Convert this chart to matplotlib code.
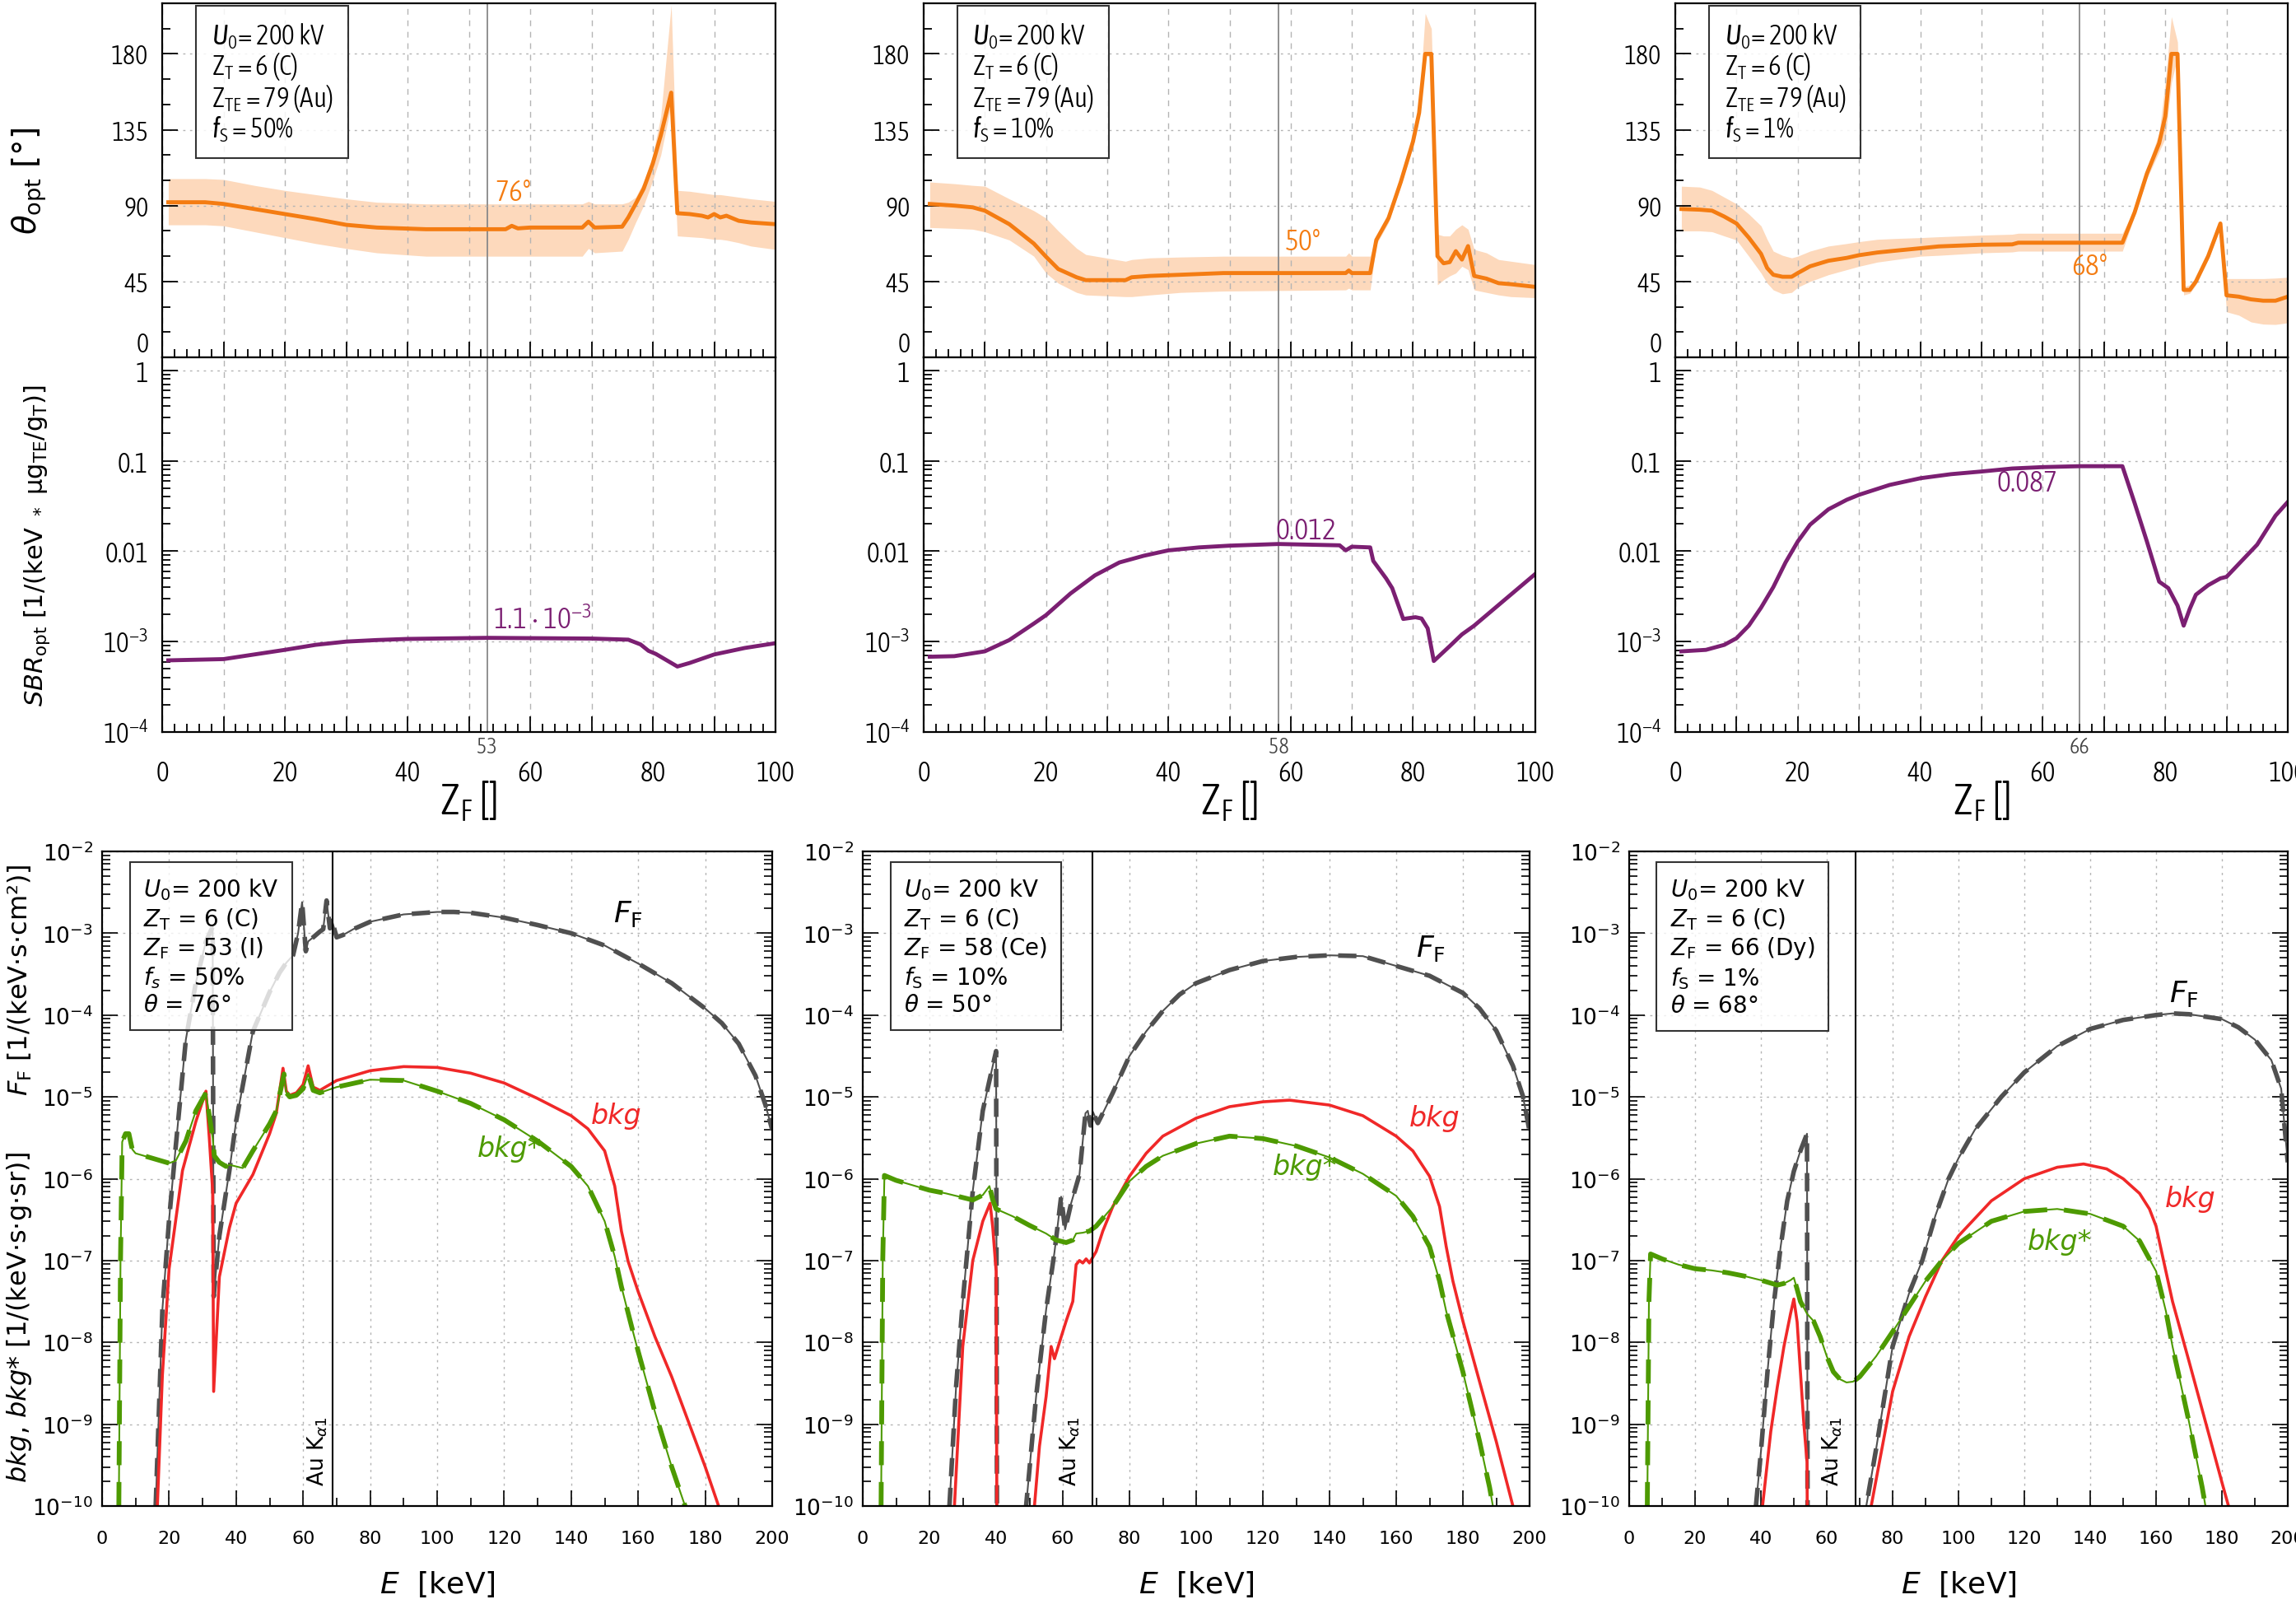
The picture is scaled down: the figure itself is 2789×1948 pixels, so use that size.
import numpy as np
import matplotlib
matplotlib.use('Agg')
import matplotlib.pyplot as plt
from matplotlib import font_manager
from matplotlib.ticker import FixedLocator, MultipleLocator, LogLocator, NullFormatter, FuncFormatter

# ---------------- data ----------------
# optimum take-off angle theta_opt [deg] vs Z_F, with upper / lower band
z_th1 = [1, 7, 10, 15, 20, 25, 30, 35, 43, 56, 57, 58, 60, 68.5, 69.5, 70.5, 75, 76, 77.2, 78.5, 80, 81.3, 83, 84, 86, 88, 89, 90, 91, 92, 94, 96, 100]
th1 = [92, 92, 91, 88, 85, 82, 78.6, 77, 76, 76, 78, 76.5, 77, 77, 80.5, 77, 77.5, 83, 91, 100, 115, 131.7, 157, 85.5, 85, 84, 83, 85, 83, 84, 81, 80, 79]
th1_hi = [106, 106, 105.5, 102, 99, 96.5, 94, 92, 91, 91, 91, 91, 91, 91, 92.5, 91, 91, 92, 95, 104, 120, 143, 209, 99, 98.5, 97.5, 97, 96.5, 96.5, 96, 95, 94, 92.5]
th1_lo = [78.6, 78.6, 78, 74.5, 71, 67.5, 64.6, 62, 60, 60, 60, 60, 60, 60, 64.6, 62, 63, 70, 80, 90, 105, 120, 150, 72, 71.5, 71, 70.5, 70, 70, 69.5, 68, 66, 64]

z_th2 = [1, 5, 8, 10, 14, 18, 20, 22, 25, 26.5, 33, 34, 37, 42, 49, 69, 69.5, 70, 73, 74, 76, 78, 80, 81, 82, 83, 84, 85, 86, 87, 88, 89, 90, 92, 94, 96, 100]
th2 = [91, 90, 89, 87, 79, 67.5, 59.7, 52.4, 47.5, 45.8, 45.8, 47.5, 48.3, 49, 50, 50, 51.5, 50, 50, 69.6, 82.6, 104, 128, 145, 180, 180, 60, 55.8, 56.5, 63, 58, 66, 48.3, 46.7, 44, 43.4, 41.8]
th2_hi = [104, 103, 102, 101.5, 94, 87, 82.6, 75, 64.7, 61, 57, 58, 59, 59.5, 60, 60, 62, 60, 60, 72, 85, 106, 132, 150, 204, 195, 73, 72, 72, 76, 78.6, 76, 64, 62, 58, 57, 55]
th2_lo = [77, 76.5, 76, 74.5, 69.6, 60, 50, 44, 38.5, 37, 36, 36, 37, 38.5, 39.3, 40, 41, 40, 40, 67, 80, 102, 125, 141, 179, 178, 43, 46, 48.3, 50, 54, 52, 40, 38.5, 37, 36, 35.4]

z_th3 = [1, 4, 6, 8, 10, 12, 14, 15, 16, 17.5, 19, 20, 22, 25, 28, 30, 33, 36, 40, 43, 50, 55, 56, 73, 75, 77, 79, 80, 81, 82, 83, 84, 85, 87, 89, 90, 92, 94, 96, 98, 100]
th3 = [88, 87.6, 87, 83.5, 79.4, 71, 61.4, 53, 49, 47.8, 47.8, 50, 54, 57.3, 59, 60.6, 62.2, 63.3, 64.7, 65.8, 66.8, 67, 68, 68, 86, 109, 127, 143, 180, 180, 40, 40, 45, 60, 79.4, 36.8, 36, 34.4, 33.6, 33.6, 36]
th3_hi = [101.5, 101, 99, 95, 91, 85, 78, 70, 63, 60.5, 59, 60, 63, 66, 67.5, 68.6, 70, 70.5, 71, 71.5, 72.5, 73, 73.6, 73.6, 88, 112, 133, 163, 202, 187, 42, 43, 47, 62, 81, 46.7, 46.7, 46.7, 46.7, 47, 47.5]
th3_lo = [75, 75, 74.5, 72, 69.6, 60, 50, 44, 40, 37.7, 38.5, 41.6, 45, 49, 52, 54, 56.5, 58, 60, 60.5, 62, 62.5, 63, 63, 84, 106, 122, 130, 163, 178, 37, 38, 43, 58, 77, 27, 25, 21, 19.7, 19.5, 20.5]

# optimum signal to background ratio vs Z_F
z_sbr1 = [1, 10, 15, 20, 25, 30, 35, 40, 53, 70, 76, 78, 79.3, 80.5, 84, 86, 90, 95, 100]
sbr1 = [6.2e-4, 6.4e-4, 7.2e-4, 8.1e-4, 9.2e-4, 1.0e-3, 1.04e-3, 1.07e-3, 1.1e-3, 1.08e-3, 1.05e-3, 9.3e-4, 7.9e-4, 7.3e-4, 5.3e-4, 5.8e-4, 7.2e-4, 8.5e-4, 9.6e-4]

z_sbr2 = [1, 5, 10, 14, 18, 20, 24, 28, 32, 36, 40, 45, 50, 58, 68, 69, 70, 73, 73.5, 75.6, 76.6, 78.4, 80.4, 81.4, 82.4, 83.4, 86, 88, 90, 95, 100]
sbr2 = [6.8e-4, 6.9e-4, 7.8e-4, 1.04e-3, 1.58e-3, 1.96e-3, 3.4e-3, 5.4e-3, 7.5e-3, 8.9e-3, 1.02e-2, 1.1e-2, 1.15e-2, 1.2e-2, 1.16e-2, 1.02e-2, 1.12e-2, 1.1e-2, 7.8e-3, 5.0e-3, 3.9e-3, 1.78e-3, 1.86e-3, 1.8e-3, 1.4e-3, 6.1e-4, 8.9e-4, 1.2e-3, 1.5e-3, 2.9e-3, 5.6e-3]

z_sbr3 = [1, 5, 8, 10, 12, 14, 16, 18, 20, 22, 25, 28, 30, 35, 40, 45, 50, 55, 60, 66, 73, 75, 77, 79, 80.5, 82, 83, 84, 85, 87, 89, 90, 95, 98, 100]
sbr3 = [7.8e-4, 8.1e-4, 9.2e-4, 1.09e-3, 1.5e-3, 2.37e-3, 4.0e-3, 7.5e-3, 1.28e-2, 1.96e-2, 2.9e-2, 3.7e-2, 4.2e-2, 5.4e-2, 6.4e-2, 7.1e-2, 7.6e-2, 8.2e-2, 8.5e-2, 8.7e-2, 8.7e-2, 3.4e-2, 1.28e-2, 4.6e-3, 3.9e-3, 2.5e-3, 1.5e-3, 2.3e-3, 3.3e-3, 4.2e-3, 5.0e-3, 5.2e-3, 1.18e-2, 2.47e-2, 3.5e-2]

# spectra (log10 of value) vs E [keV]
e_ff1 = [16, 18, 20, 22, 25, 28, 31, 33, 33.3, 35, 38, 40, 45, 50, 53, 55, 57, 58.5, 59.7, 60.8, 61.5, 63, 65, 66, 67, 68, 68.5, 69, 70, 72, 75, 80, 90, 100, 105, 110, 120, 130, 140, 150, 160, 170, 180, 185, 190, 195, 198, 200]
ff1 = [-10, -7.6, -6.5, -5.6, -4.3, -3.6, -3.1, -2.92, -7.44, -6.7, -5.9, -5.3, -4.2, -3.72, -3.48, -3.36, -3.27, -3.0, -2.62, -3.22, -3.1, -3.05, -2.98, -2.95, -2.6, -2.94, -2.83, -2.9, -3.05, -3.02, -2.95, -2.86, -2.77, -2.74, -2.74, -2.75, -2.81, -2.9, -3.0, -3.15, -3.37, -3.61, -3.92, -4.1, -4.35, -4.74, -5.1, -5.4]
e_bkg1 = [16.5, 18, 20, 24, 28, 31, 32, 33, 33.3, 35, 38, 40, 45, 50, 52, 54, 55, 56, 58, 60, 61.5, 63, 65, 70, 80, 90, 100, 110, 120, 130, 140, 145, 150, 153, 155, 157, 160, 165, 170, 175, 180, 184]
bkg1 = [-10, -8.4, -7.1, -5.9, -5.3, -4.93, -5.5, -6.15, -8.6, -7.2, -6.6, -6.3, -5.95, -5.45, -5.2, -4.65, -4.93, -4.98, -4.95, -4.85, -4.62, -4.88, -4.92, -4.8, -4.68, -4.63, -4.64, -4.71, -4.83, -5.02, -5.23, -5.39, -5.66, -6.09, -6.64, -7.01, -7.38, -7.93, -8.42, -8.97, -9.52, -10]
e_bks1 = [5, 5.5, 6, 7, 8, 9, 10, 15, 20, 22, 25, 28, 31, 32, 33, 33.5, 35, 37, 38, 40, 42, 45, 50, 52, 54.3, 55, 56, 58, 60, 61.5, 63, 65, 70, 80, 90, 100, 110, 120, 130, 140, 145, 150, 153, 155, 158, 160, 165, 170, 174]
bks1 = [-10, -7, -5.55, -5.45, -5.45, -5.64, -5.69, -5.75, -5.81, -5.78, -5.54, -5.17, -4.95, -5.23, -5.5, -5.72, -5.8, -5.85, -5.83, -5.85, -5.87, -5.66, -5.33, -5.17, -4.72, -4.95, -5.0, -4.98, -4.9, -4.72, -4.92, -4.95, -4.88, -4.79, -4.8, -4.93, -5.08, -5.28, -5.54, -5.85, -6.09, -6.52, -6.95, -7.32, -7.8, -8.11, -8.85, -9.52, -10]

e_ff2 = [26, 28, 30, 33, 36, 38, 40, 40.3, 48.9, 49, 52, 55, 57.5, 59.5, 60.7, 62.5, 65, 66.8, 67.5, 68.3, 69, 70.5, 72, 75, 80, 85, 90, 95, 100, 110, 120, 130, 140, 150, 160, 170, 180, 185, 190, 195, 198, 200]
ff2 = [-10, -8.54, -7.5, -6.15, -5.17, -4.8, -4.44, -11, -11, -10, -8.66, -7.6, -6.9, -6.22, -6.62, -6.3, -5.95, -5.2, -5.17, -5.35, -5.18, -5.32, -5.2, -4.95, -4.5, -4.2, -3.95, -3.75, -3.61, -3.45, -3.34, -3.29, -3.27, -3.28, -3.4, -3.52, -3.73, -3.92, -4.19, -4.62, -4.99, -5.42]
e_bkg2 = [27.5, 30, 33, 36, 38.2, 39, 40, 40.3, 51.3, 51.5, 53, 55, 56.5, 57.5, 59, 61, 63, 64, 65, 66, 67, 68, 70, 72, 75, 80, 85, 90, 100, 110, 120, 128, 140, 150, 160, 165, 170, 173, 175, 177, 180, 185, 190, 195]
bkg2 = [-10, -8.05, -7.0, -6.52, -6.3, -6.6, -7.13, -11, -11, -10, -9.27, -8.66, -8.05, -8.2, -8.0, -7.74, -7.5, -7.05, -7.0, -7.03, -6.98, -7.03, -6.89, -6.64, -6.34, -5.97, -5.69, -5.48, -5.26, -5.12, -5.06, -5.04, -5.1, -5.23, -5.48, -5.66, -5.97, -6.34, -6.83, -7.25, -7.74, -8.48, -9.21, -10]
e_bks2 = [5.5, 6, 6.5, 10, 15, 20, 25, 30, 33, 36, 38, 39, 40, 45, 50, 55, 58, 61, 63, 64, 66, 68, 70, 75, 80, 85, 90, 100, 110, 120, 130, 140, 150, 160, 165, 170, 173, 175, 180, 185, 188, 189]
bks2 = [-10, -7, -5.96, -6.02, -6.08, -6.14, -6.18, -6.23, -6.26, -6.2, -6.09, -6.26, -6.37, -6.46, -6.57, -6.67, -6.75, -6.78, -6.75, -6.67, -6.66, -6.64, -6.58, -6.34, -6.03, -5.85, -5.72, -5.57, -5.48, -5.51, -5.6, -5.74, -5.94, -6.21, -6.46, -6.83, -7.25, -7.62, -8.36, -9.21, -9.77, -10]

e_ff3 = [38.5, 40, 42, 44, 46, 48, 50, 52, 54, 54.2, 71.8, 72, 75, 80, 85, 89, 93, 97, 100, 105, 110, 113, 120, 130, 140, 150, 160, 165, 170, 180, 185, 190, 195, 198, 200]
ff3 = [-10, -9.34, -8.36, -7.5, -6.83, -6.27, -5.91, -5.66, -5.45, -11, -11, -10, -9.3, -8.05, -7.4, -7.0, -6.45, -6.0, -5.75, -5.4, -5.15, -5.0, -4.7, -4.38, -4.17, -4.06, -4.0, -3.98, -3.99, -4.05, -4.15, -4.3, -4.55, -4.9, -5.8]
e_bkg3 = [40.5, 43, 45, 47, 49, 50, 51, 52, 53, 54, 54.2, 73.3, 73.5, 80, 85, 90, 95, 100, 110, 120, 130, 138, 145, 150, 155, 158, 160, 162, 165, 170, 175, 180, 182]
bkg3 = [-10, -9.09, -8.54, -8.05, -7.65, -7.47, -7.75, -8.36, -8.97, -9.46, -11, -11, -10, -8.6, -7.93, -7.44, -7.0, -6.7, -6.27, -6.0, -5.86, -5.82, -5.88, -6.0, -6.18, -6.37, -6.58, -6.95, -7.5, -8.23, -8.97, -9.71, -10]
e_bks3 = [5.5, 6, 6.5, 10, 15, 20, 25, 30, 35, 40, 45, 47, 49, 50, 51, 52, 54, 56, 58, 60, 62, 64, 66, 68, 70, 75, 80, 85, 90, 95, 100, 110, 120, 130, 140, 150, 155, 160, 163, 165, 170, 174, 175]
bks3 = [-10, -7.5, -6.92, -6.98, -7.05, -7.1, -7.12, -7.15, -7.19, -7.24, -7.3, -7.28, -7.24, -7.21, -7.35, -7.5, -7.65, -7.74, -7.93, -8.17, -8.36, -8.45, -8.49, -8.48, -8.42, -8.17, -7.87, -7.56, -7.25, -7.0, -6.79, -6.52, -6.4, -6.37, -6.43, -6.58, -6.76, -7.13, -7.62, -8.05, -8.97, -9.77, -10]

z_sel = [53, 58, 66]
theta_sel = [76, 50, 68]
fs_txt = ['50%', '10%', '1%']
zf_txt = ['53 (I)', '58 (Ce)', '66 (Dy)']
sbr_txt = [r'1.1 $\cdot$ $10^{-3}$', '0.012', '0.087']


# ---------------- fonts ----------------
def as_weight(w):
    if isinstance(w, str):
        return font_manager.weight_dict.get(w, 400)
    return int(w)


def pick_narrow():
    # a condensed, not bold face for the upper panels; plain DejaVu Sans if none
    best = None
    for f in font_manager.fontManager.ttflist:
        narrow = ('Narrow' in f.name or 'Condensed' in f.name
                  or str(f.stretch) in ('condensed', 'semi-condensed'))
        w = as_weight(f.weight)
        if not narrow or f.style != 'normal' or w > 450:
            continue
        score = abs(w - 330)
        if best is None or score < best[0]:
            best = (score, f.name, str(f.stretch), w)
    if best is None:
        return 'DejaVu Sans', 'normal', 400
    return best[1], best[2], best[3]


NARROW, STRETCH, NWEIGHT = pick_narrow()
pat = ':weight=%d' % NWEIGHT
if STRETCH != 'normal':
    pat += ':stretch=' + STRETCH
plt.rcParams['font.family'] = ['DejaVu Sans']
plt.rcParams['mathtext.fontset'] = 'custom'
plt.rcParams['mathtext.rm'] = NARROW + pat
plt.rcParams['mathtext.it'] = NARROW + ':style=italic' + pat
plt.rcParams['mathtext.bf'] = NARROW + ':weight=bold'
plt.rcParams['axes.linewidth'] = 1.6
NF = dict(family=NARROW, fontstretch=STRETCH, fontweight=NWEIGHT)
DJ = dict(family='DejaVu Sans', math_fontfamily='dejavusans')

ORANGE = '#f47c12'
BAND = '#fdd9bc'
PURPLE = '#7b1f72'
RED = '#f02828'
GREEN = '#4d9a00'
GREY = '#505050'
GRID = '#b4b4b4'

W, H = 2789, 1949


def rect(x0, y0, x1, y1):
    return [x0 / W, 1 - y1 / H, (x1 - x0) / W, (y1 - y0) / H]


def narrow_ticks(ax):
    for lbl in ax.get_xticklabels() + ax.get_yticklabels():
        lbl.set_fontfamily(NARROW)
        lbl.set_fontstretch(STRETCH)
        lbl.set_fontweight(NWEIGHT)


fig = plt.figure(figsize=(W / 100, H / 100), dpi=100)

top_x = [(197, 942), (1122, 1865), (2035, 2779)]
bot_x = [(124, 938), (1048, 1858), (1979, 2779)]
th_data = [(z_th1, th1, th1_lo, th1_hi), (z_th2, th2, th2_lo, th2_hi), (z_th3, th3, th3_lo, th3_hi)]
sbr_data = [(z_sbr1, sbr1), (z_sbr2, sbr2), (z_sbr3, sbr3)]
spec_data = [(e_ff1, ff1, e_bkg1, bkg1, e_bks1, bks1),
             (e_ff2, ff2, e_bkg2, bkg2, e_bks2, bks2),
             (e_ff3, ff3, e_bkg3, bkg3, e_bks3, bks3)]
th_lbl = [(54.3, 98), (59, 69), (64.7, 54)]
sbr_lbl = [(54, 1.75e-3), (57.5, 0.017), (52.5, 0.057)]
ff_lbl = [(152.5, -2.75), (166, -3.18), (164, -3.73)]
bkg_lbl = [(146, -5.23), (164, -5.26), (162.6, -6.24)]
bks_lbl = [(112, -5.63), (123, -5.85), (121, -6.76)]
au_x = [67.8, 65.8, 65.2]

zfmt = FuncFormatter(lambda v, p: '%d' % v if int(round(v)) % 20 == 0 else '')

for i in range(3):
    x0, x1 = top_x[i]
    zs = z_sel[i]

    # ---- theta_opt panel ----
    at = fig.add_axes(rect(x0, 5, x1, 435))
    z, th, lo, hi = th_data[i]
    at.fill_between(z, lo, hi, color=BAND, lw=0, zorder=1)
    at.plot(z, th, color=ORANGE, lw=3.5, zorder=2)
    at.axvline(zs, color='#888888', lw=1.3, zorder=1.5)
    at.set_xlim(0, 100)
    at.set_ylim(0, 210)
    at.yaxis.set_major_locator(FixedLocator([0, 45, 90, 135, 180]))
    at.yaxis.set_minor_locator(MultipleLocator(15))
    at.xaxis.set_major_locator(FixedLocator(list(range(0, 101, 10))))
    at.xaxis.set_minor_locator(MultipleLocator(2))
    at.xaxis.grid(True, color=GRID, ls=(0, (5, 5)), lw=1)
    at.yaxis.grid(True, color=GRID, ls=(0, (2, 4)), lw=1)
    at.tick_params(which='both', direction='in', top=False, right=False, labelbottom=False,
                   labelsize=23, width=1.3, pad=12)
    at.tick_params(which='major', length=14)
    at.tick_params(which='minor', length=7)
    narrow_ticks(at)
    at.get_yticklabels()[0].set_va('bottom')
    at.text(th_lbl[i][0], th_lbl[i][1], '%d°' % theta_sel[i], color=ORANGE, fontsize=26,
            ha='left', va='center', **NF)
    at.text(0.08, 0.95,
            '$U_0$= 200 kV\nZ$_{\\mathrm{T}}$ = 6 (C)\nZ$_{\\mathrm{TE}}$ = 79 (Au)\n$f_{\\mathrm{S}}$ = ' + fs_txt[i],
            transform=at.transAxes, ha='left', va='top', fontsize=24, linespacing=1.02, zorder=5,
            bbox=dict(boxstyle='square,pad=0.55', fc=(1, 1, 1, 0.85), ec='#333333', lw=1.5), **NF)

    # ---- SBR_opt panel ----
    am = fig.add_axes(rect(x0, 435, x1, 890))
    z, s = sbr_data[i]
    am.plot(z, s, color=PURPLE, lw=3.5, zorder=2)
    am.axvline(zs, color='#888888', lw=1.3, zorder=1.5)
    am.set_yscale('log')
    am.set_xlim(0, 100)
    am.set_ylim(1e-4, 1.39)
    am.yaxis.set_major_locator(FixedLocator([1e-4, 1e-3, 1e-2, 0.1, 1]))
    am.yaxis.set_minor_locator(LogLocator(subs=np.arange(2, 10)))
    am.yaxis.set_minor_formatter(NullFormatter())
    am.set_yticklabels(['$10^{-4}$', '$10^{-3}$', '0.01', '0.1', '1'])
    am.xaxis.set_major_locator(FixedLocator(list(range(0, 101, 10))))
    am.xaxis.set_major_formatter(zfmt)
    am.xaxis.set_minor_locator(MultipleLocator(2))
    am.xaxis.grid(True, color=GRID, ls=(0, (5, 5)), lw=1)
    am.yaxis.grid(True, color=GRID, ls=(0, (2, 4)), lw=1)
    am.tick_params(which='both', direction='in', top=False, right=False, labelsize=24, width=1.3)
    am.tick_params(axis='y', pad=12)
    am.tick_params(axis='x', pad=24)
    am.tick_params(which='major', length=14)
    am.tick_params(which='minor', length=7)
    narrow_ticks(am)
    am.text(zs, -0.012, str(zs), transform=am.get_xaxis_transform(), ha='center', va='top',
            fontsize=19, color='#444444', **NF)
    am.text(sbr_lbl[i][0], sbr_lbl[i][1], sbr_txt[i], color=PURPLE, fontsize=26, ha='left',
            va='center', **NF)
    am.set_xlabel('Z$_{\\mathrm{F}}$ []', fontsize=38, **NF)
    am.xaxis.set_label_coords(0.5, -0.125)

    if i == 0:
        at.set_ylabel(r'$\theta_{\mathrm{opt}}$ [°]', fontsize=28, **DJ)
        at.yaxis.set_label_coords(-0.185, 0.5)
        am.set_ylabel(r'$SBR_{\mathrm{opt}}$ [1/(keV $_*$ μg$_{\mathrm{TE}}$/g$_{\mathrm{T}}$)]', fontsize=22, **DJ)
        am.yaxis.set_label_coords(-0.18, 0.5)

    # ---- spectrum panel ----
    bx0, bx1 = bot_x[i]
    ab = fig.add_axes(rect(bx0, 1035, bx1, 1830))
    e_ff, ff, e_bkg, bkg, e_bks, bks = spec_data[i]
    ff = 10 ** np.array(ff)
    bkg = 10 ** np.array(bkg)
    bks = 10 ** np.array(bks)
    ab.plot(e_ff, ff, color=GREY, lw=1.5, zorder=2)
    ab.plot(e_ff, ff, color=GREY, lw=4, ls=(0, (4, 2.5)), zorder=2)
    ab.plot(e_bkg, bkg, color=RED, lw=2.6, zorder=2.2)
    ab.plot(e_bks, bks, color=GREEN, lw=1.5, zorder=2.4)
    ab.plot(e_bks, bks, color=GREEN, lw=4.2, ls=(0, (5, 3.5)), zorder=2.4)
    ab.axvline(68.8, color='k', lw=1.5, zorder=2.6)
    ab.set_yscale('log')
    ab.set_xlim(0, 200)
    ab.set_ylim(1e-10, 1e-2)
    ab.yaxis.set_major_locator(FixedLocator([10.0 ** k for k in range(-10, -1)]))
    ab.yaxis.set_minor_locator(LogLocator(subs=np.arange(2, 10)))
    ab.yaxis.set_minor_formatter(NullFormatter())
    ab.set_yticklabels(['$10^{%d}$' % k for k in range(-10, -1)], math_fontfamily='dejavusans')
    ab.xaxis.set_major_locator(MultipleLocator(20))
    ab.xaxis.set_minor_locator(MultipleLocator(10))
    ab.grid(True, which='major', color=GRID, ls=(0, (2, 4)), lw=1)
    ab.tick_params(which='both', direction='in', top=False, right=True, width=1.2,
                   labelfontfamily='DejaVu Sans')
    ab.tick_params(which='major', length=14)
    ab.tick_params(which='minor', length=7)
    ab.tick_params(axis='y', labelsize=19, pad=8)
    ab.tick_params(axis='x', labelsize=16, pad=21)
    ab.text(au_x[i], 1.8e-10, r'Au K$_{\alpha1}$', rotation=90, ha='right', va='bottom', fontsize=19, **DJ)
    ab.text(ff_lbl[i][0], 10 ** ff_lbl[i][1], r'$F_{\mathrm{F}}$', fontsize=26, ha='left', va='center', **DJ)
    ab.text(bkg_lbl[i][0], 10 ** bkg_lbl[i][1], 'bkg', color=RED, fontsize=24, style='italic',
            ha='left', va='center', family='DejaVu Sans')
    ab.text(bks_lbl[i][0], 10 ** bks_lbl[i][1], 'bkg*', color=GREEN, fontsize=24, style='italic',
            ha='left', va='center', family='DejaVu Sans')
    fsub = '$f_s$' if i == 0 else r'$f_{\mathrm{S}}$'
    ab.text(0.062, 0.962,
            '$U_0$= 200 kV\n$Z_{\\mathrm{T}}$ = 6 (C)\n$Z_{\\mathrm{F}}$ = ' + zf_txt[i] + '\n' + fsub + ' = '
            + fs_txt[i] + '\n' + r'$\theta$ = %d°' % theta_sel[i],
            transform=ab.transAxes, ha='left', va='top', fontsize=20, linespacing=1.2, zorder=5,
            bbox=dict(boxstyle='square,pad=0.6', fc=(1, 1, 1, 0.8), ec='#333333', lw=1.5), **DJ)
    ab.set_xlabel(r'$E$  [keV]', fontsize=26, **DJ)
    ab.xaxis.set_label_coords(0.5, -0.095)

fig.text(24 / W, 1 - 1190 / H, r'$F_{\mathrm{F}}$ [1/(keV·s·cm²)]', rotation=90, ha='center', va='center',
         fontsize=23, **DJ)
fig.text(24 / W, 1 - 1600 / H, r'$bkg$, $bkg$* [1/(keV·s·g·sr)]', rotation=90, ha='center', va='center',
         fontsize=23, **DJ)

fig.savefig('out.png', dpi=100)
